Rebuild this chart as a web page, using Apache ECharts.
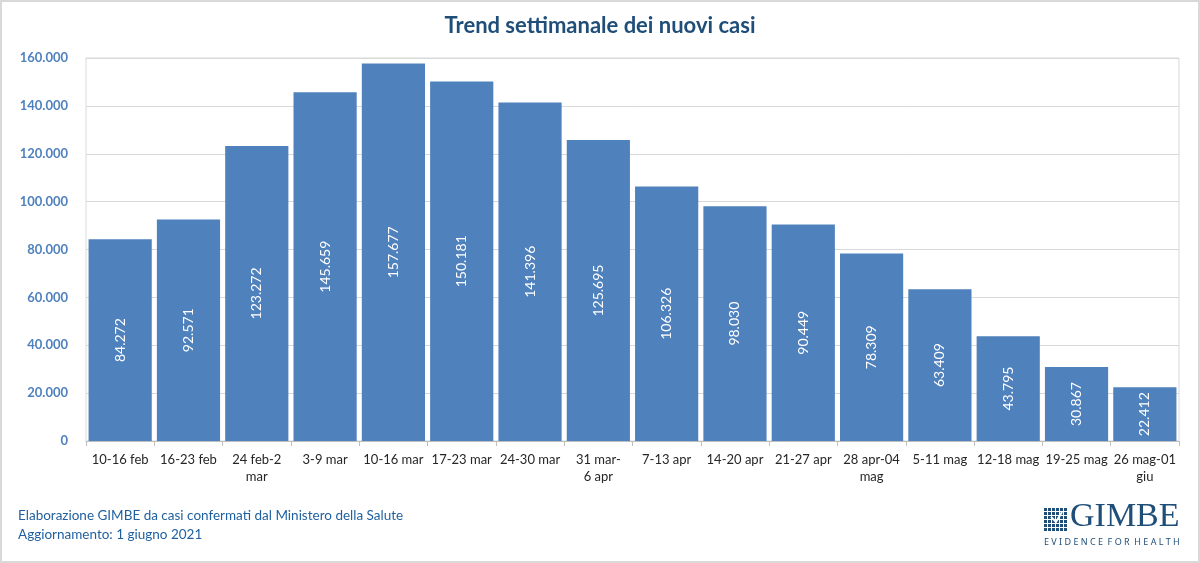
<!DOCTYPE html>
<html>
<head>
<meta charset="utf-8">
<script src="https://cdn.jsdelivr.net/npm/echarts@6/dist/echarts.min.js"></script>
<style>
html,body{margin:0;padding:0;background:#fff;}
#c{width:1200px;height:563px;box-sizing:border-box;border:2px solid #d9d9d9;}
</style>
</head>
<body>
<div id="c"></div>
<script>
const categories = ["10-16 feb","16-23 feb","24 feb-2\nmar","3-9 mar","10-16 mar","17-23 mar","24-30 mar","31 mar-\n6 apr","7-13 apr","14-20 apr","21-27 apr","28 apr-04\nmag","5-11 mag","12-18 mag","19-25 mag","26 mag-01\ngiu"];
const newCases = [84272,92571,123272,145659,157677,150181,141396,125695,106326,98030,90449,78309,63409,43795,30867,22412];
const yTicks = {min:0, max:160000, interval:20000};

const FONT = 'Lato, "Open Sans", sans-serif';
const fmt = v => String(v).replace(/\B(?=(\d{3})+(?!\d))/g, '.');

const chart = echarts.init(document.getElementById('c'));

// logo grid (decoration)
const logoCells = [];
for (let r = 0; r < 6; r++) {
  for (let c = 0; c < 6; c++) {
    logoCells.push({type:'rect', shape:{x:1042 + c*4, y:506 + r*4, width:3, height:3}, style:{fill:'#1f4e79'}});
  }
}

chart.setOption({
  animation:false,
  title:{
    text:'Trend settimanale dei nuovi casi',
    left:'center', top:8,
    textStyle:{fontFamily:FONT, fontSize:22, fontWeight:'bold', color:'#1f4e79'}
  },
  grid:{left:84, right:19, top:56, bottom:120, show:true, borderColor:'#d9d9d9', borderWidth:1},
  xAxis:{
    type:'category', data:categories,
    axisLine:{lineStyle:{color:'#bfbfbf'}},
    axisTick:{show:true, alignWithLabel:false, length:5, lineStyle:{color:'#bfbfbf'}},
    axisLabel:{interval:0, color:'#262626', fontFamily:FONT, fontSize:13, lineHeight:17, margin:10}
  },
  yAxis:{
    type:'value', min:yTicks.min, max:yTicks.max, interval:yTicks.interval,
    axisLine:{show:false}, axisTick:{show:false},
    splitLine:{lineStyle:{color:'#d9d9d9'}},
    axisLabel:{color:'#4f81bd', fontFamily:FONT, fontSize:13, fontWeight:'bold', margin:18, formatter:v=>fmt(v)}
  },
  series:[{
    type:'bar', data:newCases, barCategoryGap:'7.5%',
    itemStyle:{color:'#4f81bd'},
    label:{show:true, position:'inside', rotate:90, color:'#fff', fontFamily:FONT, fontSize:14, formatter:p=>fmt(p.value)}
  }],
  graphic:[
    {type:'text', left:16, top:507, style:{text:'Elaborazione GIMBE da casi confermati dal Ministero della Salute', fill:'#1f5f9f', font:'13.5px '+FONT}},
    {type:'text', left:16, top:526, style:{text:'Aggiornamento: 1 giugno 2021', fill:'#1f5f9f', font:'13.5px '+FONT}},
    ...logoCells,
    {type:'polyline', shape:{points:[[1049,515],[1054,520],[1060,510]]}, style:{stroke:'#fff', lineWidth:2, fill:null}},
    {type:'text', left:1068, top:498, style:{text:'GIMBE', fill:'#1f4e79', font:'34px "Liberation Serif", "DejaVu Serif", serif'}},
    {type:'text', left:1042, top:536, style:{text:'E V I D E N C E  F O R  H E A L T H', fill:'#1f4e79', font:'9px "Noto Sans", sans-serif'}}
  ]
});
</script>
</body>
</html>
